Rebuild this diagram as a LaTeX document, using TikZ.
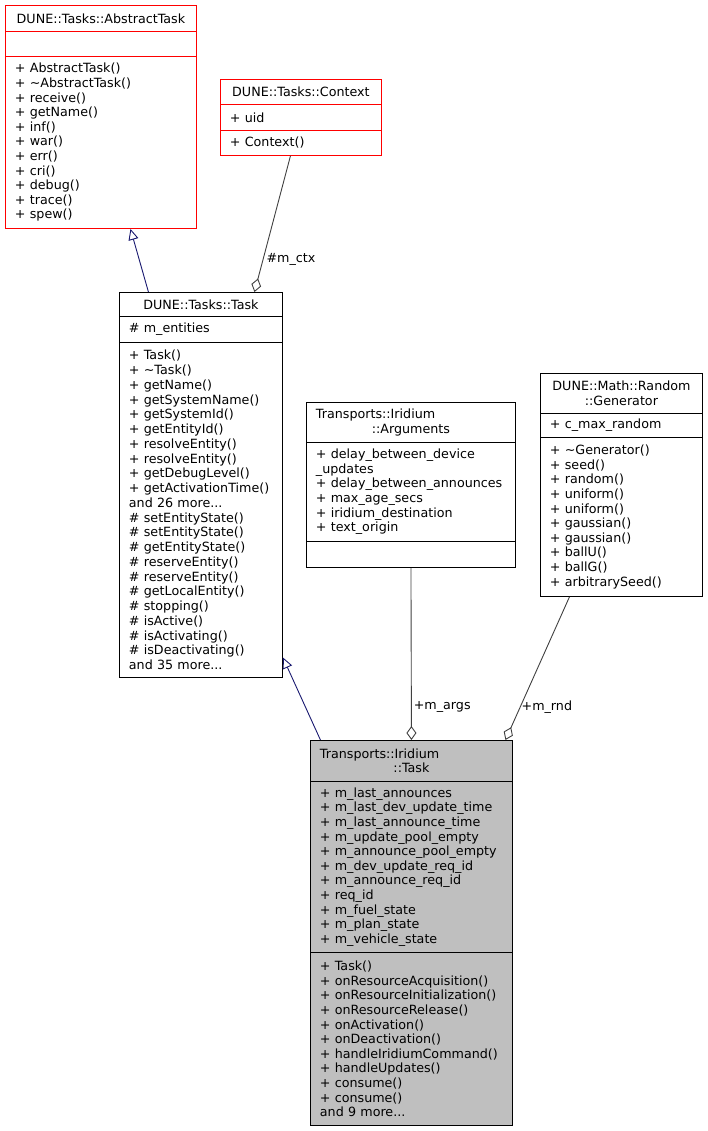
\documentclass[tikz,border=0pt]{standalone}
\usepackage{fontspec}
\setmainfont{DejaVu Sans}
\usetikzlibrary{arrows.meta}
\definecolor{edgeblue}{HTML}{191970}
\definecolor{edgegray}{HTML}{404040}
\definecolor{boxfill}{HTML}{BFBFBF}
\newcommand{\umlfont}{\fontsize{12.7}{14.6}\selectfont}
\newcommand{\umltall}{\fontsize{12.7}{14.75}\selectfont}
\newcommand{\firstline}[1]{\makebox[\hsize][l]{#1}}
\tikzset{
  umlbox/.style={draw=black, line width=0.9pt, rectangle, anchor=north west,
    inner xsep=9.5pt, inner ysep=0pt, align=left, font=\umlfont},
  umlred/.style={umlbox, draw=red},
  umltitle/.style={align=center},
  inherit/.style={draw=edgeblue, line width=0.9pt, -{Triangle[open, length=11pt, width=10pt]}},
  usage/.style={draw=edgegray, line width=0.9pt, -{Diamond[open, length=14pt, width=10pt]}},
  rolelabel/.style={font=\umlfont, inner sep=1pt, right}
}
\begin{document}
\begin{tikzpicture}[x=1pt, y=-1pt]
\useasboundingbox (0,0) rectangle (707,1131);
% DUNE::Tasks::AbstractTask
\node[umlred, umltitle, text width=172pt, minimum height=26pt] (at-title) at (5,5) {DUNE::Tasks::AbstractTask};
\node[umlred, text width=172pt, minimum height=25pt] (at-attr) at (5,31) {};
\node[umlred, text width=172pt, minimum height=172pt] (at-meth) at (5,56) {+ AbstractTask()\\+ \textasciitilde AbstractTask()\\+ receive()\\+ getName()\\+ inf()\\+ war()\\+ err()\\+ cri()\\+ debug()\\+ trace()\\+ spew()};
% DUNE::Tasks::Context
\node[umlred, umltitle, text width=142pt, minimum height=25pt] (ctx-title) at (220,79) {DUNE::Tasks::Context};
\node[umlred, text width=142pt, minimum height=26pt] (ctx-attr) at (220,104) {+ uid};
\node[umlred, text width=142pt, minimum height=25pt] (ctx-meth) at (220,130) {+ Context()};
% DUNE::Tasks::Task
\node[umlbox, umltitle, text width=144pt, minimum height=24pt] (tk-title) at (119,292) {DUNE::Tasks::Task};
\node[umlbox, text width=144pt, minimum height=26pt] (tk-attr) at (119,316) {\# m\_entities};
\node[umlbox, font=\umltall, text width=144pt, minimum height=335pt] (tk-meth) at (119,342) {+ Task()\\+ \textasciitilde Task()\\+ getName()\\+ getSystemName()\\+ getSystemId()\\+ getEntityId()\\+ resolveEntity()\\+ resolveEntity()\\+ getDebugLevel()\\+ getActivationTime()\\and 26 more...\\\# setEntityState()\\\# setEntityState()\\\# getEntityState()\\\# reserveEntity()\\\# reserveEntity()\\\# getLocalEntity()\\\# stopping()\\\# isActive()\\\# isActivating()\\\# isDeactivating()\\and 35 more...};
% Transports::Iridium::Arguments
\node[umlbox, umltitle, text width=190pt, minimum height=40pt] (arg-title) at (306,402) {\firstline{Transports::Iridium}\\::Arguments};
\node[umlbox, text width=190pt, minimum height=99pt] (arg-attr) at (306,442) {+ delay\_between\_device\\\_updates\\+~delay\_between\_announces\\+ max\_age\_secs\\+ iridium\_destination\\+ text\_origin};
\node[umlbox, text width=190pt, minimum height=26pt] (arg-meth) at (306,541) {};
% DUNE::Math::Random::Generator
\node[umlbox, umltitle, text width=143pt, minimum height=40pt] (gen-title) at (540,373) {DUNE::Math::Random\\::Generator};
\node[umlbox, text width=143pt, minimum height=24pt] (gen-attr) at (540,413) {+ c\_max\_random};
\node[umlbox, text width=143pt, minimum height=159pt] (gen-meth) at (540,437) {+ \textasciitilde Generator()\\+ seed()\\+ random()\\+ uniform()\\+ uniform()\\+ gaussian()\\+ gaussian()\\+ ballU()\\+ ballG()\\+ arbitrarySeed()};
% Transports::Iridium::Task
\node[umlbox, umltitle, fill=boxfill, text width=183pt, minimum height=41pt] (ir-title) at (310,740) {\firstline{Transports::Iridium}\\::Task};
\node[umlbox, fill=boxfill, text width=183pt, minimum height=171pt] (ir-attr) at (310,781) {+ m\_last\_announces\\+ m\_last\_dev\_update\_time\\+ m\_last\_announce\_time\\+ m\_update\_pool\_empty\\+ m\_announce\_pool\_empty\\+ m\_dev\_update\_req\_id\\+ m\_announce\_req\_id\\+ req\_id\\+ m\_fuel\_state\\+ m\_plan\_state\\+ m\_vehicle\_state};
\node[umlbox, fill=boxfill, text width=183pt, minimum height=173pt] (ir-meth) at (310,952) {+ Task()\\+ onResourceAcquisition()\\+ onResourceInitialization()\\+ onResourceRelease()\\+ onActivation()\\+ onDeactivation()\\+ handleIridiumCommand()\\+ handleUpdates()\\+ consume()\\+ consume()\\and 9 more...};
% connectors
\draw[inherit] ([xshift=-52.5pt]tk-title.north) -- ([xshift=29.5pt]at-meth.south);
\draw[usage] ([xshift=-10.5pt]ctx-meth.south) -- node[rolelabel, pos=0.76, xshift=2pt] {\#m\_ctx} ([xshift=53.5pt]tk-title.north);
\draw[inherit] ([xshift=-91pt]ir-title.north) -- ([yshift=-147.5pt]tk-meth.east);
\draw[usage] (arg-meth.south) -- node[rolelabel, pos=0.81, xshift=1pt] {+m\_args} (ir-title.north);
\draw[usage] ([xshift=-52pt]gen-meth.south) -- node[rolelabel, pos=0.77] {+m\_rnd} ([xshift=94pt]ir-title.north);
\end{tikzpicture}
\end{document}
